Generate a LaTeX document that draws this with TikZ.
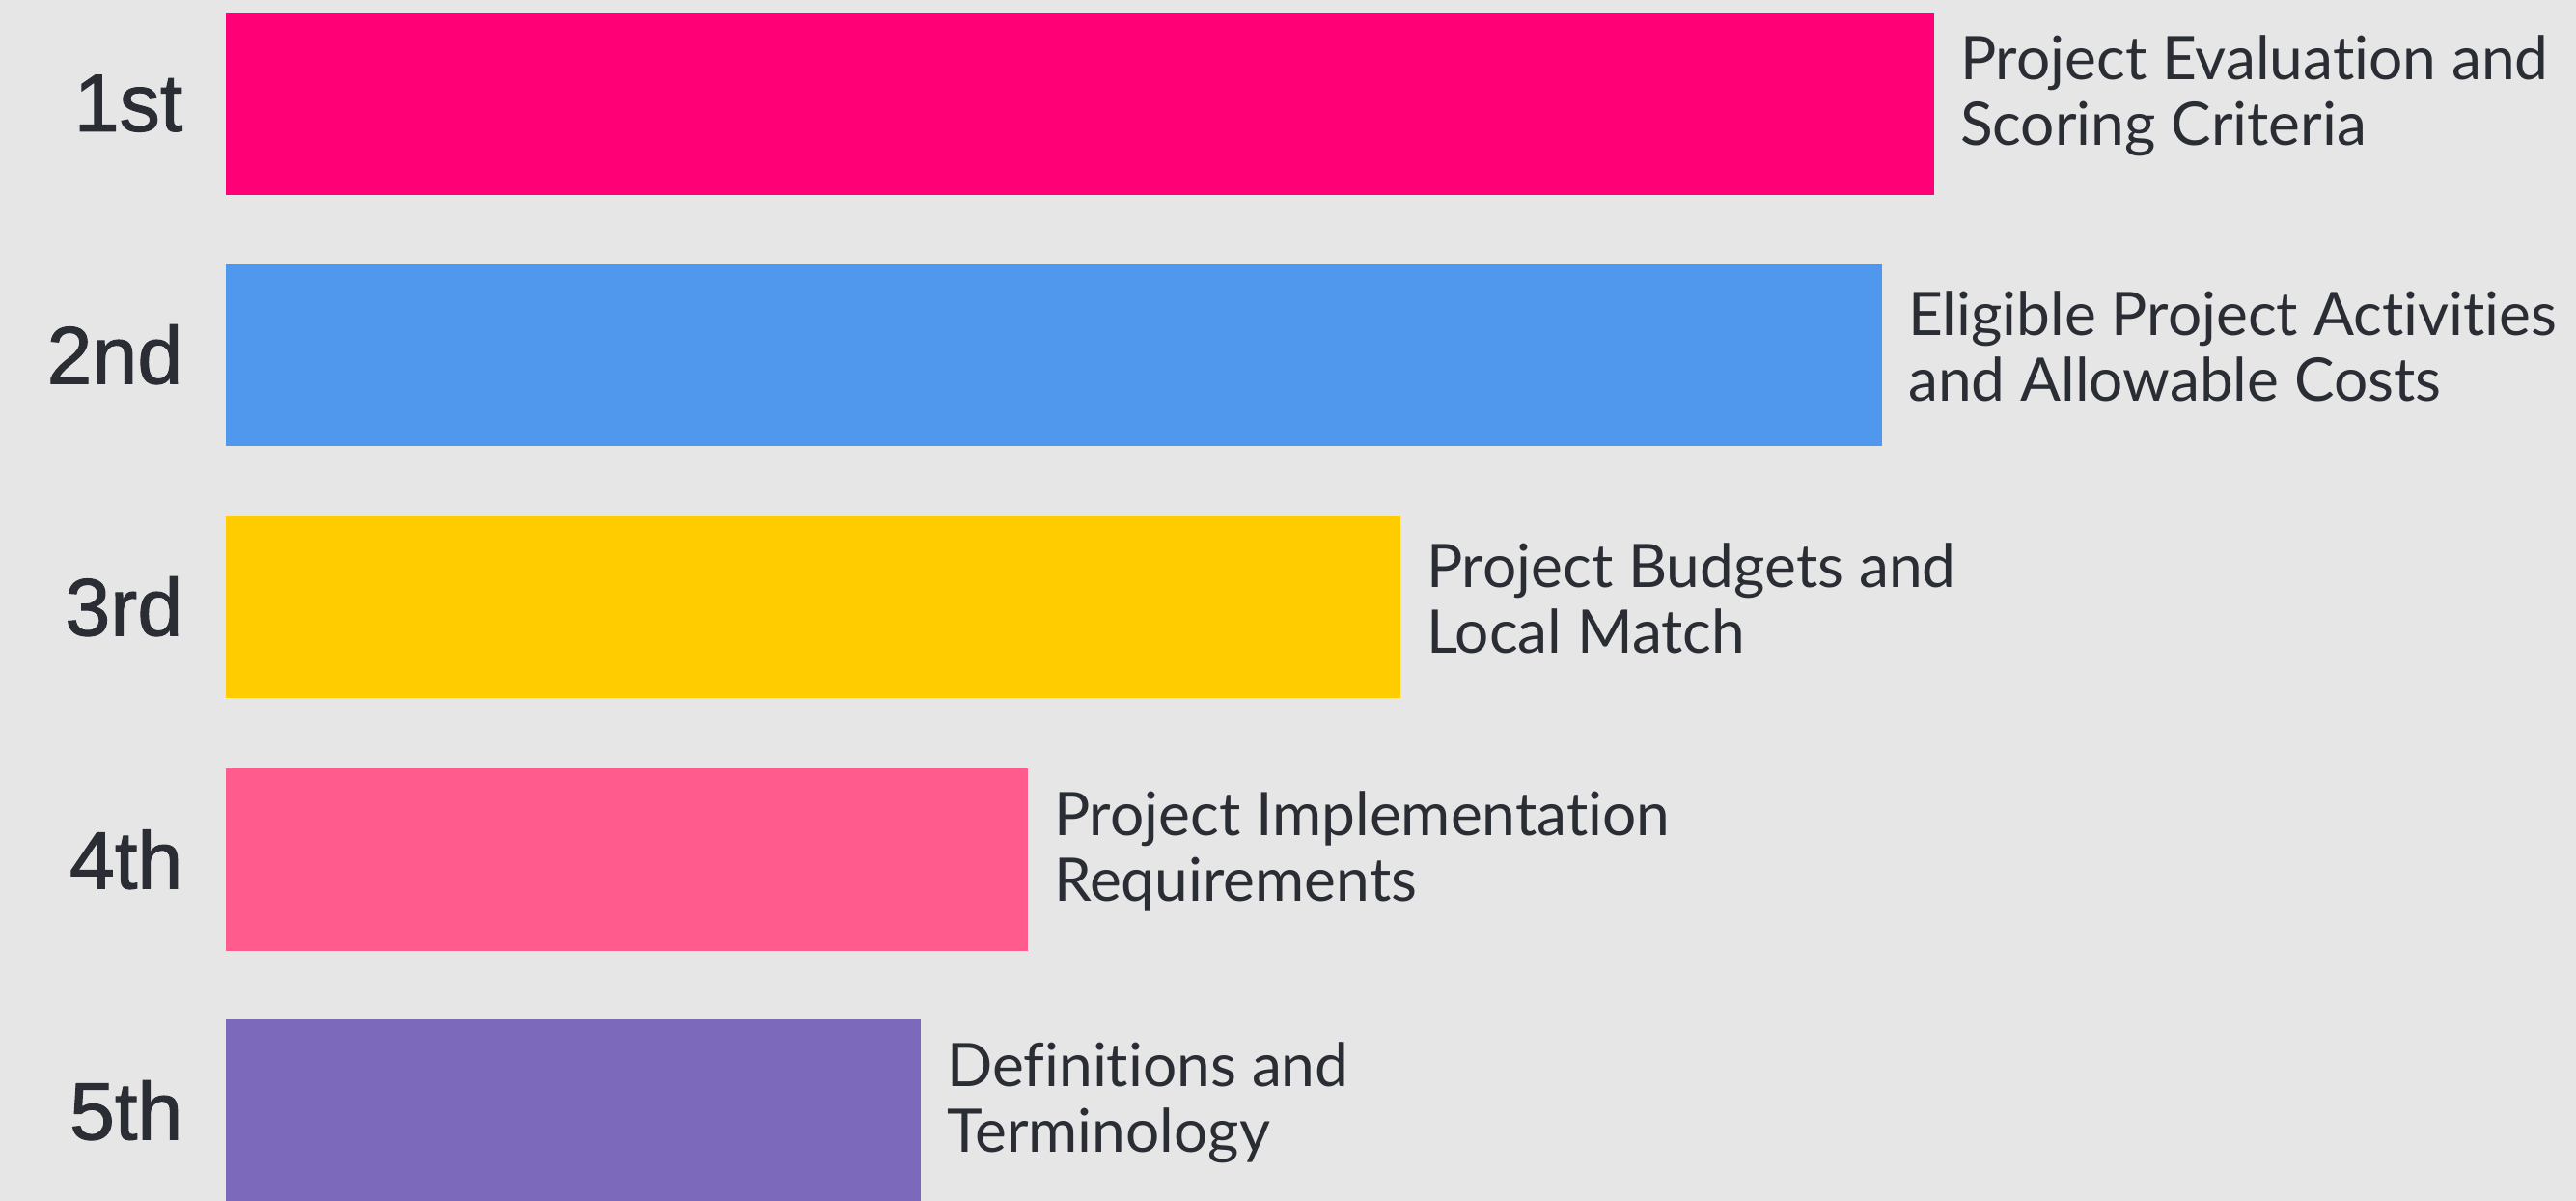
\documentclass[tikz,border=0pt]{standalone}
\usepackage{fontspec}
\setmainfont{Lato}[Ligatures=NoCommon]
\newfontfamily\rankfont[FakeBold=1.2]{Liberation Sans}
\usetikzlibrary{positioning}

\definecolor{bggrey}{HTML}{E6E6E6}
\definecolor{inkgrey}{HTML}{2A2D34}
\definecolor{barpink}{HTML}{FF0077}
\definecolor{barblue}{HTML}{4F98EE}
\definecolor{baryellow}{HTML}{FFCC00}
\definecolor{barrose}{HTML}{FF5C8D}
\definecolor{barpurple}{HTML}{7D69BC}

\begin{document}
\begin{tikzpicture}
	\useasboundingbox (0,0) rectangle (26.69,12.44);
	\fill[bggrey] (0,0) rectangle (26.69,12.44);

	\begin{scope}[every node/.style={rectangle,anchor=north west,minimum height=1.89cm,inner sep=0}]
		\node[fill=barpink,minimum width=17.70cm] (B1) at (2.33,12.32) {};
		\node[fill=barblue,minimum width=17.16cm] (B2) at (2.33,9.72) {};
		\node[fill=baryellow,minimum width=12.17cm] (B3) at (2.33,7.11) {};
		\node[fill=barrose,minimum width=8.31cm] (B4) at (2.33,4.49) {};
		\node[fill=barpurple,minimum width=7.20cm] (B5) at (2.33,1.89) {};
	\end{scope}

	\begin{scope}[every node/.style={inner sep=0,text=inkgrey,font=\rankfont\fontsize{24}{30}\selectfont}]
		\node[left=0.43cm of B1] (R1) {1st};
		\node[left=0.43cm of B2] (R2) {2nd};
		\node[left=0.43cm of B3] (R3) {3rd};
		\node[left=0.43cm of B4] (R4) {4th};
		\node[left=0.43cm of B5] (R5) {5th};
	\end{scope}

	\begin{scope}[every node/.style={inner sep=0,align=left,text=inkgrey,font=\fontsize{17.7}{19.4}\selectfont}]
		\node[right=0.26cm of B1,yshift=0.08cm] (T1) {Project Evaluation and\\Scoring Criteria};
		\node[right=0.26cm of B2,yshift=0.08cm] (T2) {Eligible Project Activities\\and Allowable Costs};
		\node[right=0.26cm of B3,yshift=0.08cm] (T3) {Project Budgets and\\Local Match};
		\node[right=0.26cm of B4,yshift=0.08cm] (T4) {Project Implementation\\Requirements};
		\node[right=0.26cm of B5,yshift=0.08cm] (T5) {Definitions and\\Terminology};
	\end{scope}
\end{tikzpicture}
\end{document}
